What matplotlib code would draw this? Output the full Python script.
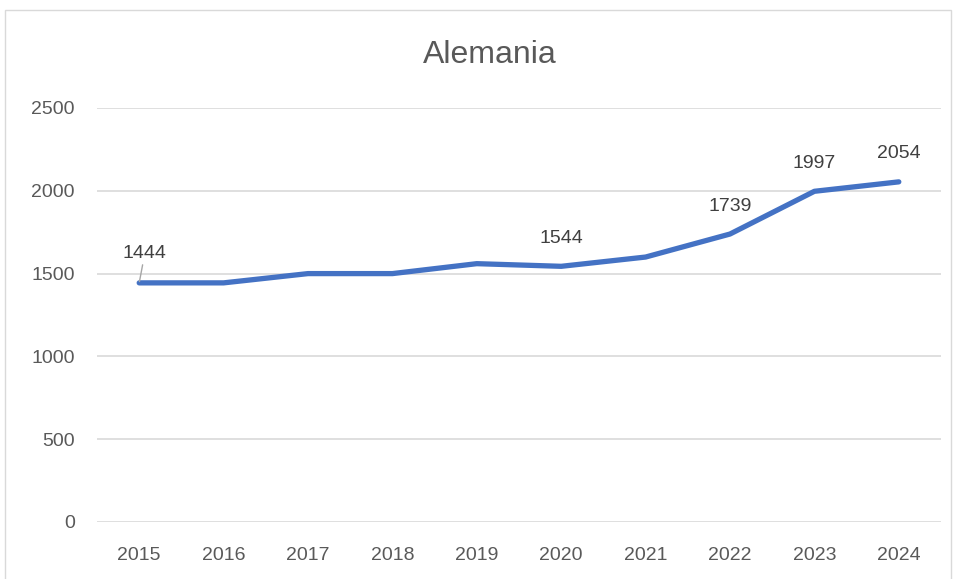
import matplotlib
matplotlib.use("Agg")
import matplotlib.pyplot as plt
from matplotlib.patches import Rectangle

years = ["2015", "2016", "2017", "2018", "2019", "2020", "2021", "2022", "2023", "2024"]
values = [1444, 1444, 1500, 1500, 1560, 1544, 1600, 1739, 1997, 2054]
labeled = {"2015": "1444", "2020": "1544", "2022": "1739", "2023": "1997", "2024": "2054"}
yticks = [0, 500, 1000, 1500, 2000, 2500]
title = "Alemania"

plt.rcParams['font.family'] = ['Liberation Sans', 'DejaVu Sans']

fig = plt.figure(figsize=(9.58, 5.79), dpi=100)
fig.patches.append(Rectangle((5/958, -0.01), (951-5)/958, (579-10)/579 + 0.01,
                             transform=fig.transFigure, fill=False,
                             edgecolor="#D9D9D9", linewidth=1))
ax = fig.add_axes([97/958, 1-522/579, (941-97)/958, (522-108)/579])

x = list(range(len(years)))
ax.plot(x, values, color="#4472C4", linewidth=3.8, solid_capstyle="round",
        solid_joinstyle="round", zorder=3)

ax.set_xlim(-0.5, len(years)-0.5)
ax.set_ylim(0, 2500)
ax.set_yticks(yticks)
ax.set_xticks(x)
ax.set_xticklabels(years)
ax.grid(axis="y", color="#D9D9D9", linewidth=1.2)
ax.set_axisbelow(True)
for s in ax.spines.values():
    s.set_visible(False)
ax.tick_params(length=0, labelsize=14, colors="#595959")
ax.tick_params(axis="x", pad=18)
ax.tick_params(axis="y", pad=16)

for i, (yr, v) in enumerate(zip(years, values)):
    if yr in labeled:
        if i == 0:
            ax.annotate(labeled[yr], xy=(i, v), xytext=(4, 15), textcoords="offset points",
                        ha="center", va="bottom", fontsize=14, color="#404040",
                        arrowprops=dict(arrowstyle="-", color="#A6A6A6", lw=1,
                                        shrinkA=0, shrinkB=1))
        else:
            ax.annotate(labeled[yr], xy=(i, v), xytext=(0, 14), textcoords="offset points",
                        ha="center", va="bottom", fontsize=14, color="#404040")

fig.text(490/958, 1-55/579, title, ha="center", va="center", fontsize=23, color="#595959")

fig.savefig("out.png", dpi=100)
